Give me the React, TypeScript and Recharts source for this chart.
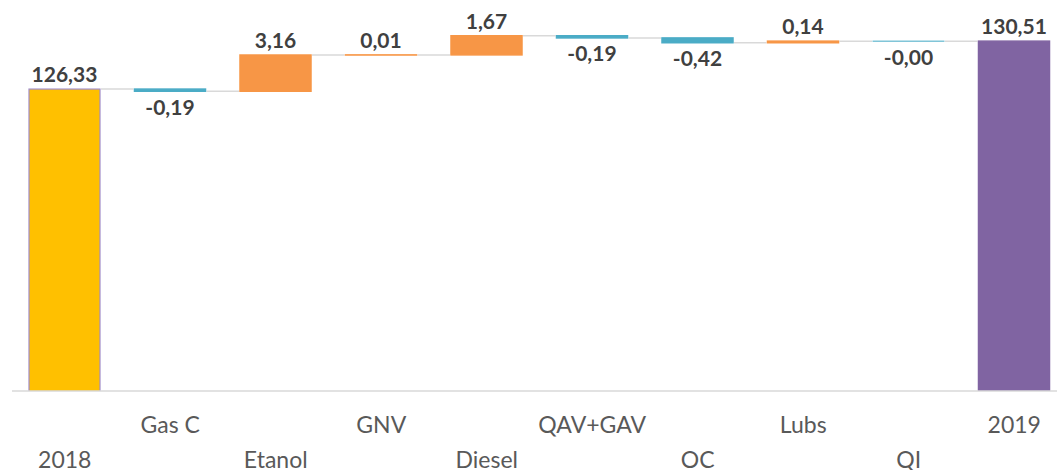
import React from 'react';
import { ComposedChart, Bar, XAxis, YAxis, Cell, LabelList } from 'recharts';

const categories = ['2018', 'Gas C', 'Etanol', 'GNV', 'Diesel', 'QAV+GAV', 'OC', 'Lubs', 'QI', '2019'];
const values = [126.33, -0.19, 3.16, 0.01, 1.67, -0.19, -0.42, 0.14, -0.004, 130.51];
const isTotal = [true, false, false, false, false, false, false, false, false, true];

const COLORS = {
  start: '#FFC000',
  end: '#8064A2',
  up: '#F79646',
  down: '#4BACC6',
  connector: '#D9D9D9',
  label: '#404040',
  tick: '#595959',
};

const CHART_W = 1070;
const MARGIN = { top: 8, right: 3, bottom: 0, left: 12 };
const BAR_SIZE = 71;
const BAND = (CHART_W - MARGIN.left - MARGIN.right) / categories.length;
const GAP = BAND - BAR_SIZE;

const data = (() => {
  let running = 0;
  return categories.map((name, i) => {
    const v = values[i];
    let low: number;
    let high: number;
    if (isTotal[i]) {
      low = 0;
      high = v;
      running = v;
    } else {
      const start = running;
      const end = running + v;
      low = Math.min(start, end);
      high = Math.max(start, end);
      running = end;
    }
    return { name, value: v, range: [low, high], level: running, total: isTotal[i] };
  });
})();

const fmt = (v: number) => v.toFixed(2).replace('.', ',');

const fillFor = (i: number) => {
  if (isTotal[i]) return i === 0 ? COLORS.start : COLORS.end;
  return values[i] >= 0 ? COLORS.up : COLORS.down;
};

const WaterfallShape = (props: any) => {
  const { x, y, width, height, index } = props;
  const top = Math.min(y, y + height);
  const h = Math.abs(height);
  const v = values[index];
  const endY = v < 0 && !isTotal[index] ? top + h : top;
  const fill = fillFor(index);
  const stroke = index === 0 ? '#A08CC8' : fill;
  const sw = index === 0 ? 1.2 : Math.abs(v) < 0.01 ? 1 : 1.5;
  const last = index === categories.length - 1;
  return (
    <g>
      {!last && (
        <line
          x1={x + width + 1}
          x2={x + width + GAP - 1}
          y1={endY}
          y2={endY}
          stroke={COLORS.connector}
          strokeWidth={1.5}
        />
      )}
      <rect x={x} y={top} width={width} height={h} fill={fill} stroke={stroke} strokeWidth={sw} />
    </g>
  );
};

const ValueLabel = (props: any) => {
  const { x, y, width, height, index } = props;
  const top = Math.min(y, y + height);
  const bottom = Math.max(y, y + height);
  const v = values[index];
  const neg = v < 0;
  return (
    <text
      x={x + width / 2}
      y={neg ? bottom + 23.5 : top - 7}
      textAnchor="middle"
      fill={COLORS.label}
      fontFamily="Lato, sans-serif"
      fontWeight="bold"
      fontSize={21}
    >
      {fmt(v)}
    </text>
  );
};

const StaggerTick = (props: any) => {
  const { x, index, payload } = props;
  const base = 391;
  const yy = index % 2 === 1 ? base + 42 : base + 77;
  return (
    <text x={x} y={yy} textAnchor="middle" fill={COLORS.tick} fontFamily="Lato, sans-serif" fontSize={23}>
      {payload.value}
    </text>
  );
};

export default function App() {
  return (
    <div style={{ position: 'absolute', left: 0, top: 0, width: 1057, height: 470, overflow: 'hidden', background: '#fff' }}>
      <ComposedChart width={CHART_W} height={470} data={data} margin={MARGIN} barCategoryGap={0}>
        <XAxis
          dataKey="name"
          interval={0}
          tickLine={false}
          axisLine={{ stroke: COLORS.connector, strokeWidth: 1.5 }}
          height={79}
          tick={<StaggerTick />}
        />
        <YAxis hide domain={[100, 133.4]} allowDataOverflow />
        <Bar dataKey="range" barSize={BAR_SIZE} isAnimationActive={false} shape={<WaterfallShape />}>
          {data.map((d) => (
            <Cell key={d.name} />
          ))}
          <LabelList dataKey="range" content={<ValueLabel />} />
        </Bar>
      </ComposedChart>
    </div>
  );
}
